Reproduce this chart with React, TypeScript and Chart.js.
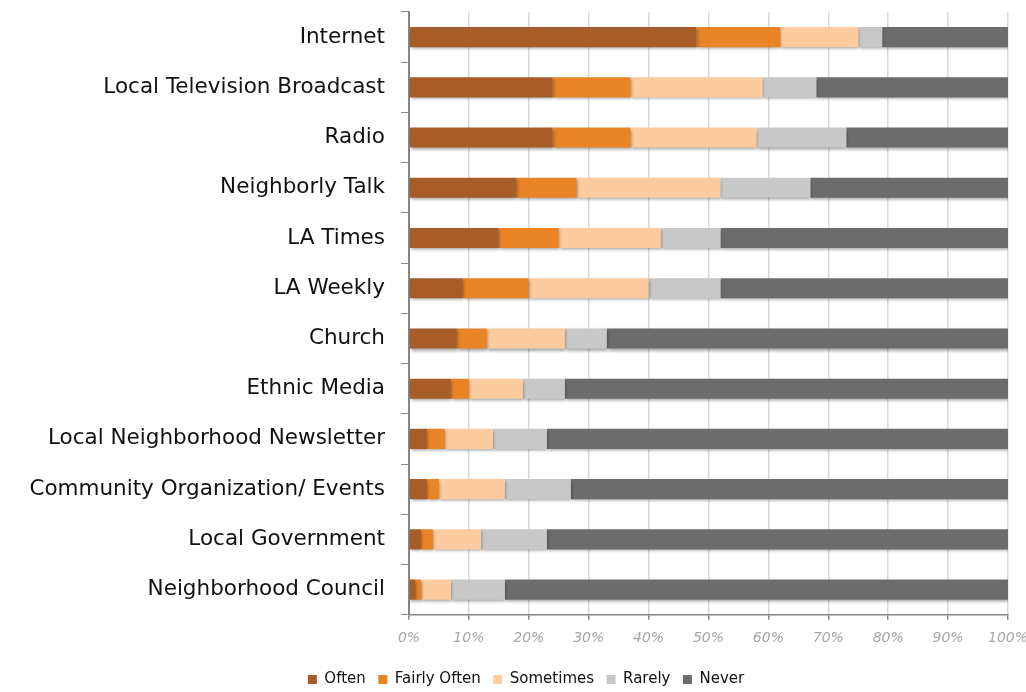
import React, { useEffect, useRef } from "react";
import { Chart, registerables } from "chart.js";

Chart.register(...registerables);

const categories = [
  "Internet",
  "Local Television Broadcast",
  "Radio",
  "Neighborly Talk",
  "LA Times",
  "LA Weekly",
  "Church",
  "Ethnic Media",
  "Local Neighborhood Newsletter",
  "Community Organization/ Events",
  "Local Government",
  "Neighborhood Council",
];

const often = [48, 24, 24, 18, 15, 9, 8, 7, 3, 3, 2, 1];
const fairlyOften = [14, 13, 13, 10, 10, 11, 5, 3, 3, 2, 2, 1];
const sometimes = [13, 22, 21, 24, 17, 20, 13, 9, 8, 11, 8, 5];
const rarely = [4, 9, 15, 15, 10, 12, 7, 7, 9, 11, 11, 9];
const never = [21, 32, 27, 33, 48, 48, 67, 74, 77, 73, 77, 84];

const seriesNames = ["Often", "Fairly Often", "Sometimes", "Rarely", "Never"];
const seriesColors = ["#A65D28", "#E88425", "#FCCBA0", "#C8C8C8", "#6C6C6C"];

const FONT = "'DejaVu Sans', sans-serif";

export default function App() {
  const ref = useRef<HTMLCanvasElement | null>(null);

  useEffect(() => {
    document.body.style.margin = "0";
    const canvas = ref.current;
    if (!canvas) return;
    const values = [often, fairlyOften, sometimes, rarely, never];

    const shadowPlugin = {
      id: "barShadow",
      beforeDatasetsDraw(chart: any) {
        const ctx = chart.ctx;
        ctx.save();
        ctx.shadowColor = "rgba(0,0,0,0.35)";
        ctx.shadowBlur = 3;
        ctx.shadowOffsetX = 1;
        ctx.shadowOffsetY = 2;
      },
      afterDatasetsDraw(chart: any) {
        chart.ctx.restore();
      },
    };

    const legendShift = {
      id: "legendShift",
      afterLayout(chart: any) {
        const lg = chart.legend;
        if (lg) {
          lg.left += 22;
          lg.right += 22;
        }
      },
    };

    const chart = new Chart(canvas, {
      type: "bar",
      data: {
        labels: categories,
        datasets: seriesNames.map((name, i) => ({
          label: name,
          data: values[i],
          backgroundColor: seriesColors[i],
          borderWidth: 0,
          barPercentage: 0.8,
          categoryPercentage: 0.5,
        })),
      },
      options: {
        indexAxis: "y",
        animation: false,
        responsive: false,
        maintainAspectRatio: false,
        layout: { padding: { top: 12, right: 18, left: 0, bottom: -5 } },
        plugins: {
          legend: {
            position: "bottom",
            labels: {
              boxWidth: 9,
              boxHeight: 9,
              padding: 12.5,
              color: "#111",
              font: { family: FONT, size: 15 },
            },
          },
          tooltip: { enabled: false },
        },
        scales: {
          x: {
            stacked: true,
            min: 0,
            max: 100,
            afterFit: (scale: any) => {
              scale.paddingLeft = 0;
              scale.paddingRight = 0;
              scale.height += 3;
            },
            ticks: {
              stepSize: 10,
              callback: (v: any) => v + "%",
              color: "#A6A6A6",
              padding: 10,
              font: { family: FONT, size: 14, style: "italic" },
            },
            grid: {
              color: "#D9D9D9",
              lineWidth: 1.5,
              drawTicks: true,
              tickLength: 5,
              tickColor: "#868686",
            },
            border: { display: true, color: "#868686", width: 1.5 },
          },
          y: {
            stacked: true,
            afterFit: (scale: any) => {
              scale.width = 409;
              scale.paddingTop = 0;
              scale.paddingBottom = 0;
            },
            ticks: {
              color: "#111",
              padding: 16,
              font: { family: FONT, size: 21.5 },
            },
            grid: {
              display: true,
              drawOnChartArea: false,
              drawTicks: true,
              tickLength: 8,
              tickColor: "#868686",
              offset: true,
            },
            border: { display: true, color: "#868686", width: 2 },
          },
        },
      },
      plugins: [shadowPlugin, legendShift],
    } as any);

    return () => chart.destroy();
  }, []);

  return <canvas ref={ref} width={1026} height={692} style={{ display: "block" }} />;
}
